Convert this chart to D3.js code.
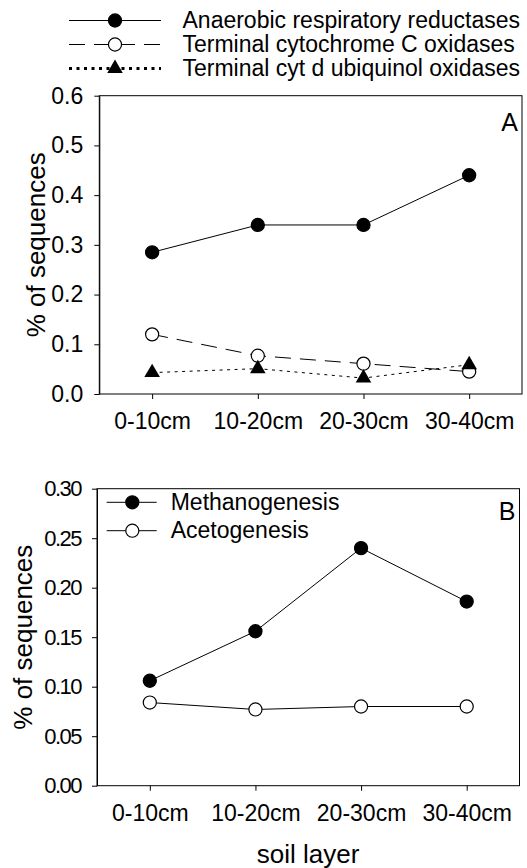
<!DOCTYPE html>
<html>
<head>
<meta charset="utf-8">
<script src="https://cdn.jsdelivr.net/npm/d3@7"></script>
<style>
  body { margin: 0; background: #fff; }
  svg { display: block; font-family: "Liberation Sans", Arial, sans-serif; }
  .axis text { fill: #000; }
  .axis path, .axis line { stroke: #000; stroke-width: 1; }
  .frame { fill: none; stroke: #000; stroke-width: 1; }
  .series { fill: none; stroke: #000; stroke-width: 1; }
  .legend text { font-size: 23px; }
  .title { font-size: 26px; }
  .panel-label { font-size: 25px; }
</style>
</head>
<body>
<svg id="chart" width="527" height="868"></svg>
<script>
// soil layers (both panels share them)
var layers = ["0-10cm", "10-20cm", "20-30cm", "30-40cm"];

// panel A
var anaerobic = [0.285, 0.34, 0.34, 0.44];
var cytC = [0.12, 0.077, 0.061, 0.045];
var cytD = [0.043, 0.051, 0.032, 0.059];
var ticksA = [0, 0.1, 0.2, 0.3, 0.4, 0.5, 0.6];

// panel B
var methano = [0.106, 0.156, 0.240, 0.186];
var aceto = [0.084, 0.077, 0.080, 0.080];
var ticksB = [0, 0.05, 0.10, 0.15, 0.20, 0.25, 0.30];

var svg = d3.select("#chart");

var circleSym = d3.symbol().type(d3.symbolCircle).size(135);
var triSym = d3.symbol().type(d3.symbolTriangle).size(105);

// styles per series
var styleSolid = {dash: null, width: 1, marker: "filled"},
    styleSolidOpen = {dash: null, width: 1, marker: "open"},
    styleDash = {dash: "16,9", width: 1, marker: "open"},
    styleDot = {dash: "3,4.5", width: 3, marker: "triangle"};

function drawMarker(g, x, y, kind) {
  if (kind == "triangle") {
    g.append("path")
      .attr("d", triSym())
      .attr("transform", "translate(" + x + "," + y + ")")
      .attr("fill", "#000");
  } else {
    g.append("path")
      .attr("d", circleSym())
      .attr("transform", "translate(" + x + "," + y + ")")
      .attr("fill", kind == "filled" ? "#000" : "#fff")
      .attr("stroke", "#000")
      .attr("stroke-width", 1.2);
  }
}

function panel(opts) {
  var x = d3.scalePoint()
    .domain(layers)
    .range([opts.left, opts.right])
    .padding(0.5);

  var y = d3.scaleLinear()
    .domain([0, opts.ymax])
    .range([opts.bottom, opts.top]);

  var g = svg.append("g");

  g.append("g")
    .attr("class", "axis")
    .attr("transform", "translate(" + opts.left + ",0)")
    .call(d3.axisLeft(y).tickValues(opts.ticks).tickFormat(d3.format(opts.fmt))
      .tickSize(5).tickPadding(11).tickSizeOuter(0))
    .attr("font-family", null)
    .attr("font-size", opts.ySize)
    .attr("letter-spacing", opts.ySpacing);

  g.append("g")
    .attr("class", "axis")
    .attr("transform", "translate(0," + opts.bottom + ")")
    .call(d3.axisBottom(x).tickSize(5).tickPadding(14).tickSizeOuter(0))
    .attr("font-family", null)
    .attr("font-size", 23)
    .call(function(a) { a.select(".domain").remove(); });

  g.append("rect")
    .attr("class", "frame")
    .attr("x", opts.left)
    .attr("y", opts.top)
    .attr("width", opts.right - opts.left)
    .attr("height", opts.bottom - opts.top);

  var line = d3.line()
    .x(function(d, i) { return x(layers[i]); })
    .y(function(d) { return y(d); });

  opts.series.forEach(function(s) {
    g.append("path")
      .datum(s.values)
      .attr("class", "series")
      .attr("d", line)
      .attr("stroke-width", s.style.width)
      .attr("stroke-dasharray", s.style.dash);
  });
  // markers on top of all lines
  opts.series.forEach(function(s) {
    s.values.forEach(function(v, i) { drawMarker(g, x(layers[i]), y(v), s.style.marker); });
  });

  // y title
  g.append("text")
    .attr("class", "title")
    .attr("text-anchor", "middle")
    .attr("transform", "translate(" + opts.titleX + "," + ((opts.top + opts.bottom) / 2) + ") rotate(-90)")
    .text("% of sequences");

  g.append("text")
    .attr("class", "panel-label")
    .attr("text-anchor", "end")
    .attr("x", opts.right - 4)
    .attr("y", opts.top + opts.labelDy)
    .text(opts.label);

  return {x: x, y: y};
}

panel({
  left: 99.3, right: 522, top: 95.7, bottom: 394,
  ymax: 0.6, ticks: ticksA, fmt: ".1f", ySize: 23, ySpacing: 0,
  titleX: 45, label: "A", labelDy: 35,
  series: [
    {values: anaerobic, style: styleSolid},
    {values: cytC, style: styleDash},
    {values: cytD, style: styleDot}
  ]
});

panel({
  left: 97, right: 519.5, top: 488.7, bottom: 785.7,
  ymax: 0.30, ticks: ticksB, fmt: ".2f", ySize: 22, ySpacing: -1.5,
  titleX: 32, label: "B", labelDy: 31.5,
  series: [
    {values: methano, style: styleSolid},
    {values: aceto, style: styleSolidOpen}
  ]
});

// legend A (above panel)
var legA = [
  {name: "Anaerobic respiratory reductases", style: styleSolid},
  {name: "Terminal cytochrome C oxidases", style: styleDash},
  {name: "Terminal cyt d ubiquinol oxidases", style: styleDot}
];
var lgA = svg.append("g").attr("class", "legend");
legA.forEach(function(d, i) {
  var yy = 20.5 + i * 24;
  lgA.append("line")
    .attr("x1", 69).attr("x2", 161).attr("y1", yy).attr("y2", yy)
    .attr("stroke", "#000")
    .attr("stroke-width", d.style.width)
    .attr("stroke-dasharray", d.style.dash);
  drawMarker(lgA, 115, yy, d.style.marker);
  lgA.append("text").attr("x", 182.5).attr("y", yy + 7.5).text(d.name);
});

// legend B (inside panel)
var legB = [
  {name: "Methanogenesis", style: styleSolid},
  {name: "Acetogenesis", style: styleSolidOpen}
];
var lgB = svg.append("g").attr("class", "legend");
legB.forEach(function(d, i) {
  var yy = 502.3 + i * 28.4;
  lgB.append("line")
    .attr("x1", 106.7).attr("x2", 156.7).attr("y1", yy).attr("y2", yy)
    .attr("stroke", "#000");
  drawMarker(lgB, 132.3, yy, d.style.marker);
  lgB.append("text").attr("x", 170.7).attr("y", yy + 7.7).text(d.name);
});

// x title
svg.append("text")
  .attr("class", "title")
  .attr("text-anchor", "middle")
  .attr("x", 308)
  .attr("y", 863)
  .text("soil layer");
</script>
</body>
</html>
